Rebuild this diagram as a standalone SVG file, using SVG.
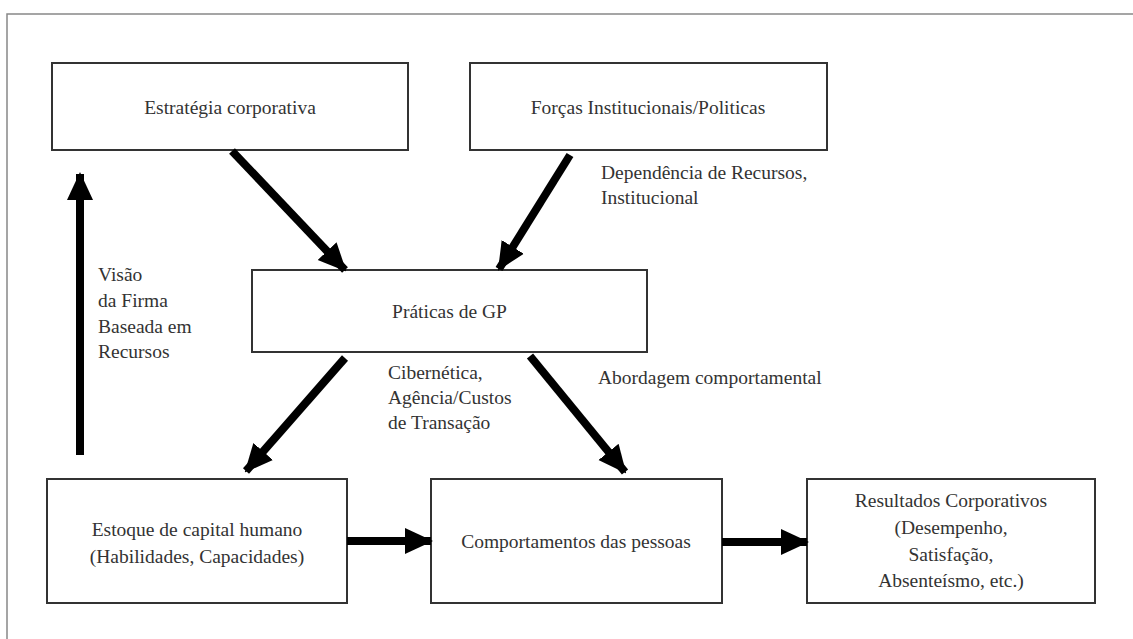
<svg xmlns="http://www.w3.org/2000/svg" width="1133" height="639" viewBox="0 0 1133 639">
<style>
.box{fill:#fff;stroke:#333;stroke-width:2}
.t{font-family:"Liberation Serif","Times New Roman",serif;font-size:19.5px;fill:#333}
.c{text-anchor:middle}
.a{stroke:#000;stroke-width:8;fill:none;marker-end:url(#ah)}
</style>
<defs>
<marker id="ah" markerUnits="userSpaceOnUse" markerWidth="28" markerHeight="28" refX="26" refY="14" orient="auto" viewBox="0 0 28 28">
<path d="M0,1 L28,14 L0,27 Z" fill="#000"/>
</marker>
</defs>
<rect width="1133" height="639" fill="#fff"/>
<path d="M7,639 V14 H1133" fill="none" stroke="#888" stroke-width="1.5"/>
<g id="estrategia"><rect class="box" x="52" y="63" width="356" height="87"/><text class="t c" x="230" y="114">Estratégia corporativa</text></g>
<g id="forcas"><rect class="box" x="470" y="63" width="357" height="87"/><text class="t c" x="648" y="114">Forças Institucionais/Politicas</text></g>
<g id="praticas"><rect class="box" x="252" y="270" width="395" height="82"/><text class="t c" x="449.5" y="318">Práticas de GP</text></g>
<g id="estoque"><rect class="box" x="47" y="479" width="300" height="124"/><text class="t c" x="197" y="536">Estoque de capital humano</text><text class="t c" x="197" y="563">(Habilidades, Capacidades)</text></g>
<g id="comportamentos"><rect class="box" x="431" y="479" width="291" height="124"/><text class="t c" x="576" y="548">Comportamentos das pessoas</text></g>
<g id="resultados"><rect class="box" x="807" y="479" width="288" height="124"/><text class="t c" x="951" y="507">Resultados Corporativos</text><text class="t c" x="951" y="534">(Desempenho,</text><text class="t c" x="951" y="561">Satisfação,</text><text class="t c" x="951" y="587">Absenteísmo, etc.)</text></g>
<g id="connectors">
<line class="a" x1="80" y1="455" x2="80" y2="174"/>
<line class="a" x1="232" y1="151" x2="345" y2="270"/>
<line class="a" x1="570" y1="155" x2="499" y2="269"/>
<line class="a" x1="345" y1="358" x2="246" y2="471"/>
<line class="a" x1="530" y1="356" x2="625" y2="472"/>
<line class="a" x1="347" y1="541" x2="431" y2="541" stroke-width="10"/>
<line class="a" x1="722" y1="542" x2="807" y2="542" stroke-width="10"/>
</g>
<g id="labels">
<text class="t" x="601" y="179">Dependência de Recursos,</text>
<text class="t" x="601" y="204">Institucional</text>
<text class="t" x="98" y="281">Visão</text>
<text class="t" x="98" y="307">da Firma</text>
<text class="t" x="98" y="333">Baseada em</text>
<text class="t" x="98" y="358">Recursos</text>
<text class="t" x="388" y="379">Cibernética,</text>
<text class="t" x="388" y="404">Agência/Custos</text>
<text class="t" x="388" y="429">de Transação</text>
<text class="t" x="598" y="384">Abordagem comportamental</text>
</g>
</svg>
